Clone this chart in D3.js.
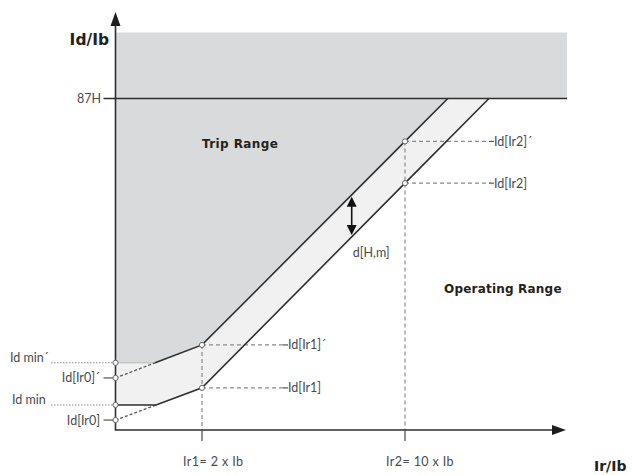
<!DOCTYPE html>
<html><head><meta charset="utf-8">
<script src="https://cdn.jsdelivr.net/npm/d3@7"></script>
<style>
html,body{margin:0;padding:0;background:#fff;}
svg{display:block;}
.lbl{font-family:Lato,"Open Sans",sans-serif;font-size:12.5px;fill:#4a4a4a;}
.bold{font-family:"DejaVu Sans",sans-serif;font-weight:bold;fill:#222;}
</style></head>
<body>
<svg id="c" width="633" height="475"></svg>
<script>
// ---- data (schematic units) ----
const xBreaks = [0, 2, 10, 14];                 // Ir/Ib breakpoints of the schematic axis
const xTickValues = [2, 10];
const xTickLabels = ["Ir1= 2 x Ib", "Ir2= 10 x Ib"];
const level87H = 83.4;                          // Id/Ib level of 87H
const yTop = 100;
const leftNames = ["Id min´", "Id[Ir0]´", "Id min", "Id[Ir0]"];
const leftValues = [16.9, 13.1, 6.3, 2.5];
const upperY = [21.4, 72.6];                    // Id[Ir1]´, Id[Ir2]´ at Ir1, Ir2
const lowerY = [10.6, 62.1];                    // Id[Ir1],  Id[Ir2]  at Ir1, Ir2
const upperNames = ["Id[Ir1]´", "Id[Ir2]´"];
const lowerNames = ["Id[Ir1]", "Id[Ir2]"];
const arrowX = 7.9;                             // d[H,m] arrow position (Ir/Ib)

const svg = d3.select("#c");
const x = d3.scaleLinear().domain(xBreaks).range([115.5, 202, 405, 567]);
const y = d3.scaleLinear().domain([0, yTop]).range([430, 32.5]);

const [idMinP, ir0P, idMin, ir0] = leftValues;
// knee where sloped segment meets the Id min level (within segment [0,2])
const kneeU = xTickValues[0] * (idMinP - ir0P) / (upperY[0] - ir0P);
const kneeL = xTickValues[0] * (idMin - ir0) / (lowerY[0] - ir0);
// pixel extension of the steep segment up to 87H
function reach87(yv) {
  const x1 = x(xTickValues[0]), y1 = y(yv[0]), x2 = x(xTickValues[1]), y2 = y(yv[1]);
  const t = (y(level87H) - y1) / (y2 - y1);
  return x1 + t * (x2 - x1);
}
const xu87 = reach87(upperY), xl87 = reach87(lowerY);

const dark = "#2e2e2e", gray = "#8a8a8a";
const fillTrip = "#d9dadc", fillBand = "#f0f1f0";

// top grey area
svg.append("rect").attr("x", x(0)).attr("y", y(yTop))
  .attr("width", x(14) - x(0)).attr("height", y(level87H) - y(yTop)).attr("fill", fillTrip);

// trip region below 87H
const upperPts = [[x(0), y(idMinP)], [x(kneeU), y(idMinP)], [x(2), y(upperY[0])], [x(10), y(upperY[1])], [xu87, y(level87H)]];
const lowerPts = [[x(0), y(idMin)], [x(kneeL), y(idMin)], [x(2), y(lowerY[0])], [x(10), y(lowerY[1])], [xl87, y(level87H)]];
svg.append("path").attr("fill", fillTrip)
  .attr("d", d3.line()([[x(0), y(level87H)], ...upperPts.slice().reverse()]) + "Z");
// band
svg.append("path").attr("fill", fillBand)
  .attr("d", d3.line()([...upperPts, ...lowerPts.slice().reverse()]) + "Z");

// faint edge of trip area at Id min´
svg.append("line").attr("x1", x(0)).attr("x2", x(kneeU)).attr("y1", y(idMinP)).attr("y2", y(idMinP))
  .attr("stroke", "#b5b5b5").attr("stroke-width", 1);

// dashed extensions from Id[Ir0] points
[[ir0P, upperY[0], kneeU, idMinP], [ir0, lowerY[0], kneeL, idMin]].forEach(([a, b, k, m]) => {
  svg.append("line").attr("x1", x(0)).attr("y1", y(a)).attr("x2", x(k)).attr("y2", y(m))
    .attr("stroke", "#555").attr("stroke-width", 1.3).attr("stroke-dasharray", "3,2");
});

// reference dashed lines
function dash(x1, y1, x2, y2) {
  svg.append("line").attr("x1", x1).attr("y1", y1).attr("x2", x2).attr("y2", y2)
    .attr("stroke", gray).attr("stroke-width", 1.2).attr("stroke-dasharray", "4,3");
}
dash(x(2), y(upperY[0]), x(2), y(0));
dash(x(10), y(upperY[1]), x(10), y(0));
dash(x(2), y(upperY[0]), x(2) + 82, y(upperY[0]));
dash(x(2), y(lowerY[0]), x(2) + 82, y(lowerY[0]));
dash(x(10), y(upperY[1]), x(10) + 85, y(upperY[1]));
dash(x(10), y(lowerY[1]), x(10) + 85, y(lowerY[1]));
// short solid ticks before right labels
[[x(2) + 82, upperY[0]], [x(2) + 82, lowerY[0]], [x(10) + 85, upperY[1]], [x(10) + 85, lowerY[1]]].forEach(([px, v]) => {
  svg.append("line").attr("x1", px - 1).attr("x2", px + 4).attr("y1", y(v)).attr("y2", y(v)).attr("stroke", "#555").attr("stroke-width", 1.2);
});

// 87H line
svg.append("line").attr("x1", x(0) - 12).attr("x2", x(14)).attr("y1", y(level87H)).attr("y2", y(level87H))
  .attr("stroke", dark).attr("stroke-width", 1.3);

// boundary curves (solid portions)
svg.append("path").attr("fill", "none").attr("stroke", dark).attr("stroke-width", 1.6)
  .attr("d", d3.line()(upperPts.slice(1)));
svg.append("path").attr("fill", "none").attr("stroke", dark).attr("stroke-width", 1.6)
  .attr("d", d3.line()(lowerPts));

// left dotted lines & ticks
leftNames.forEach((n, i) => {
  const v = leftValues[i];
  if (n.startsWith("Id min")) {
    svg.append("line").attr("x1", 51).attr("x2", x(0)).attr("y1", y(v)).attr("y2", y(v))
      .attr("stroke", gray).attr("stroke-width", 1.1).attr("stroke-dasharray", "1.5,1.5");
    svg.append("text").attr("class", "lbl").attr("x", n.endsWith("´") ? 10 : 12).attr("y", y(v) - 1).text(n);
  } else {
    svg.append("line").attr("x1", x(0) - 12).attr("x2", x(0)).attr("y1", y(v)).attr("y2", y(v))
      .attr("stroke", "#555").attr("stroke-width", 1.2);
    svg.append("text").attr("class", "lbl").attr("x", 100).attr("y", y(v) + 4.5)
      .attr("text-anchor", "end").text(n);
  }
});

// axes
svg.append("line").attr("x1", x(0)).attr("x2", x(0)).attr("y1", y(0)).attr("y2", 24).attr("stroke", dark).attr("stroke-width", 1.6);
svg.append("path").attr("d", `M${x(0)},12 L${x(0) - 5},26 L${x(0) + 5},26 Z`).attr("fill", "#1e1e1e");
svg.append("line").attr("x1", x(0) - 0.8).attr("x2", 556).attr("y1", y(0)).attr("y2", y(0)).attr("stroke", dark).attr("stroke-width", 1.6);
svg.append("path").attr("d", `M566,${y(0)} L552,${y(0) - 5} L552,${y(0) + 5} Z`).attr("fill", "#1e1e1e");

// x ticks
xTickValues.forEach((v, i) => {
  svg.append("line").attr("x1", x(v)).attr("x2", x(v)).attr("y1", y(0)).attr("y2", y(0) + 11)
    .attr("stroke", "#555").attr("stroke-width", 1.3);
  svg.append("text").attr("class", "lbl").attr("x", x(v) - 19).attr("y", y(0) + 36)
    .attr("font-size", 13).attr("letter-spacing", 0.4).text(xTickLabels[i]);
});

// markers
const markers = [...leftValues.map(v => [x(0), y(v)]),
  [x(2), y(upperY[0])], [x(2), y(lowerY[0])], [x(10), y(upperY[1])], [x(10), y(lowerY[1])]];
svg.selectAll("circle.m").data(markers).join("circle").attr("class", "m")
  .attr("cx", d => d[0]).attr("cy", d => d[1]).attr("r", 2.6)
  .attr("fill", "#fafafa").attr("stroke", "#666").attr("stroke-width", 1);

// right labels
[[upperNames[0], upperY[0], x(2) + 86], [lowerNames[0], lowerY[0], x(2) + 86],
 [upperNames[1], upperY[1], x(10) + 89], [lowerNames[1], lowerY[1], x(10) + 89]].forEach(([n, v, px]) => {
  svg.append("text").attr("class", "lbl").attr("x", px).attr("y", y(v) + 4.5).text(n);
});

// 87H label
svg.append("text").attr("class", "lbl").attr("x", 101).attr("y", y(level87H) + 4.5).attr("text-anchor", "end").text("87H");

// d[H,m] double arrow
const ax = x(arrowX);
function lineY(yv, px) {
  const x1 = x(2), y1 = y(yv[0]), x2 = x(10), y2 = y(yv[1]);
  return y1 + (px - x1) / (x2 - x1) * (y2 - y1);
}
const ya = lineY(upperY, ax) + 2, yb = lineY(lowerY, ax) - 2;
svg.append("line").attr("x1", ax).attr("x2", ax).attr("y1", ya + 6).attr("y2", yb - 6).attr("stroke", "#111").attr("stroke-width", 1.6);
svg.append("path").attr("d", `M${ax},${ya} L${ax - 5},${ya + 10} L${ax + 5},${ya + 10} Z`).attr("fill", "#111");
svg.append("path").attr("d", `M${ax},${yb} L${ax - 5},${yb - 10} L${ax + 5},${yb - 10} Z`).attr("fill", "#111");
svg.append("text").attr("class", "lbl").attr("x", ax + 1).attr("y", yb + 22).text("d[H,m]");

// bold labels
svg.append("text").attr("class", "bold").attr("x", 109).attr("y", 45).attr("text-anchor", "end")
  .attr("font-size", 15.5).text("Id/Ib");
svg.append("text").attr("class", "bold").attr("x", 594).attr("y", 471)
  .attr("font-size", 14).text("Ir/Ib");
svg.append("text").attr("class", "bold").attr("x", 202).attr("y", 148)
  .attr("font-size", 12).attr("letter-spacing", 0.4).text("Trip Range");
svg.append("text").attr("class", "bold").attr("x", 444).attr("y", 293)
  .attr("font-size", 12).attr("letter-spacing", 0.2).text("Operating Range");
</script>
</body></html>
